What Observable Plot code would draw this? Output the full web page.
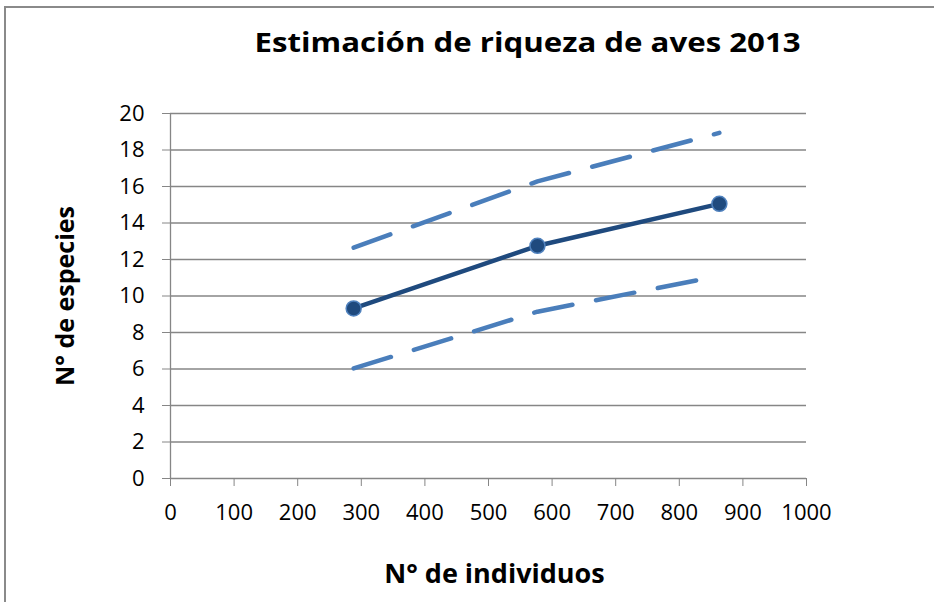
<!DOCTYPE html>
<html>
<head>
<meta charset="utf-8">
<script src="https://cdn.jsdelivr.net/npm/d3@7"></script>
<script src="https://cdn.jsdelivr.net/npm/@observablehq/plot@0.6"></script>
<style>
  body { margin: 0; background: #fff; font-family: "Open Sans", sans-serif; }
  #wrap { position: relative; width: 934px; height: 602px; overflow: hidden; }
  #border { position: absolute; left: 4px; top: 6px; width: 960px; height: 620px; border: 2px solid #8a8a8a; box-sizing: border-box; }
  #title { position: relative; height: 80px; width: 934px; }
  #title div { position: absolute; left: 0; width: 1056px; text-align: center; top: 24px; }
  #title span { display: inline-block; font-size: 26px; font-weight: 700; color: #000; transform: scaleX(1.2); transform-origin: center; }
  #chart { position: relative; }
</style>
</head>
<body>
<div id="wrap">
  <div id="border"></div>
  <div id="title"><div><span>Estimación de riqueza de aves 2013</span></div></div>
  <div id="chart"></div>
</div>
<script>
const individuos = [288, 577, 863];
const especies = [9.32, 12.75, 15.05];
const limiteSuperior = [12.65, 16.28, 18.94];
const limiteInferior = [6.03, 9.14, 11.1];
const xTicks = [0, 100, 200, 300, 400, 500, 600, 700, 800, 900, 1000];
const yTicks = [0, 2, 4, 6, 8, 10, 12, 14, 16, 18, 20];
const xTitle = "N° de individuos";
const yTitle = "N° de especies";

const rows = individuos.map((x, i) => ({x, y: especies[i], up: limiteSuperior[i], lo: limiteInferior[i]}));
const gray = "#868686";

const plot = Plot.plot({
  width: 934,
  height: 522,
  marginLeft: 170,
  marginRight: 128,
  marginTop: 33,
  marginBottom: 124,
  style: {fontFamily: "Open Sans", color: "#000", background: "transparent"},
  x: {domain: [0, 1000]},
  y: {domain: [0, 20]},
  marks: [
    Plot.gridY(yTicks.filter(d => d > 0), {stroke: gray, strokeOpacity: 1, strokeWidth: 1.3}),
    Plot.ruleY([0], {stroke: gray, strokeWidth: 1.3}),
    Plot.ruleX([0], {stroke: gray, strokeWidth: 1.3}),
    Plot.axisY({ticks: yTicks, tickSize: 8, tickPadding: 18, stroke: gray, fill: "#000", fontSize: 22, tickFormat: d => String(d), label: null}),
    Plot.axisX({ticks: xTicks, tickSize: 8, tickPadding: 18, stroke: gray, fill: "#000", fontSize: 22, tickFormat: d => String(d), label: null}),
    Plot.line(rows, {x: "x", y: "up", stroke: "#4a7ebb", strokeWidth: 4.5, strokeDasharray: "39 24", strokeLinecap: "round"}),
    Plot.line(rows, {x: "x", y: "lo", stroke: "#4a7ebb", strokeWidth: 4.5, strokeDasharray: "39 24", strokeLinecap: "round"}),
    Plot.line(rows, {x: "x", y: "y", stroke: "#1f4a7e", strokeWidth: 4.5}),
    Plot.dot(rows, {x: "x", y: "y", r: 7.5, fill: "#1f4a7e", stroke: "#4f81bd", strokeWidth: 1.5}),
    Plot.text([yTitle], {frameAnchor: "left", dx: -105, rotate: -90, textAnchor: "middle", fontSize: 25, fontWeight: "bold", fill: "#000"}),
    Plot.text([xTitle], {frameAnchor: "bottom", dx: 6, dy: 104, textAnchor: "middle", fontSize: 27, fontWeight: "bold", fill: "#000"})
  ]
});
document.getElementById("chart").appendChild(plot);
</script>
</body>
</html>
